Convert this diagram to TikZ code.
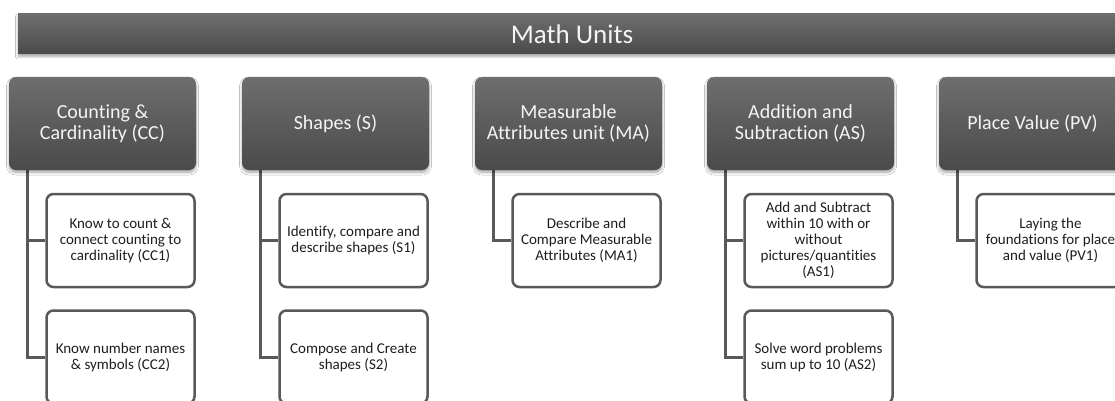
\documentclass[tikz,border=0pt]{standalone}
\usepackage{fontspec}
\setmainfont[Ligatures={NoCommon}]{Carlito}
\usetikzlibrary{shadows.blur,backgrounds}

\definecolor{linkgray}{HTML}{595959}
\definecolor{boxtop}{HTML}{6E6E6E}
\definecolor{boxbottom}{HTML}{4A4A4A}
\definecolor{lighttext}{HTML}{F4F4F4}
\definecolor{darktext}{HTML}{1E1E1E}

\tikzset{
  softshadow/.style={blur shadow={shadow xshift=0pt, shadow yshift=-2.5pt,
      shadow opacity=35, shadow blur radius=2.5pt, shadow blur steps=6}},
  banner/.style={rectangle, minimum width=1108pt, minimum height=40pt, inner sep=0pt,
      top color=boxtop, bottom color=boxbottom, text=lighttext,
      font=\fontsize{27}{30}\selectfont, softshadow},
  unitbox/.style={rectangle, rounded corners=7pt, minimum width=187pt, minimum height=93pt,
      inner sep=0pt, align=center, top color=boxtop, bottom color=boxbottom,
      text=lighttext, font=\fontsize{20}{21}\selectfont, softshadow},
  topicbox/.style={rectangle, rounded corners=7pt, minimum width=148pt, minimum height=93pt,
      inner sep=0pt, align=center, draw=linkgray, line width=2.5pt, fill=white,
      text=darktext, font=\fontsize{15}{16}\selectfont},
  link/.style={draw=linkgray, line width=3pt}
}

\begin{document}
\begin{tikzpicture}[x=1pt, y=-1pt]
\useasboundingbox (0,0) rectangle (1115,401);
\clip (0,0) rectangle (1115,401);

% title bar
\node[banner] (title) at (572,34) {Math Units};

% unit headers
\node[unitbox] (cc) at (102.5,123.5) {Counting \&\\Cardinality (CC)};
\node[unitbox] (s)  at (335.5,123.5) {Shapes (S)};
\node[unitbox] (ma) at (568.5,123.5) {Measurable\\Attributes unit (MA)};
\node[unitbox] (as) at (800.5,123.5) {Addition and\\Subtraction (AS)};
\node[unitbox] (pv) at (1032.5,123.5) {Place Value (PV)};

% topics
\node[topicbox] (cc1) at (120.5,240.5) {Know to count \&\\connect counting to\\cardinality (CC1)};
\node[topicbox] (cc2) at (120.5,357) {Know number names\\\& symbols (CC2)};
\node[topicbox] (s1)  at (353.5,240.5) {Identify, compare and\\describe shapes (S1)};
\node[topicbox] (s2)  at (353.5,357) {Compose and Create\\shapes (S2)};
\node[topicbox] (ma1) at (586.5,240.5) {Describe and\\Compare Measurable\\Attributes (MA1)};
\node[topicbox] (as1) at (818.5,240.5) {Add and Subtract\\within 10 with or\\without\\pictures/quantities\\(AS1)};
\node[topicbox] (as2) at (818.5,357) {Solve word problems\\sum up to 10 (AS2)};
\node[topicbox] (pv1) at (1050.5,240.5) {Laying the\\foundations for place\\and value (PV1)};

% white page and connectors, kept behind the boxes
\begin{scope}[on background layer]
  \clip (0,0) rectangle (1115,401);
  \fill[white] (0,0) rectangle (1115,401);
  \draw[link] ([xshift=-75.5pt]cc.south) |- (cc1.west);
  \draw[link] ([xshift=-75.5pt]cc.south) |- (cc2.west);
  \draw[link] ([xshift=-75.5pt]s.south) |- (s1.west);
  \draw[link] ([xshift=-75.5pt]s.south) |- (s2.west);
  \draw[link] ([xshift=-75.5pt]ma.south) |- (ma1.west);
  \draw[link] ([xshift=-75.5pt]as.south) |- (as1.west);
  \draw[link] ([xshift=-75.5pt]as.south) |- (as2.west);
  \draw[link] ([xshift=-75.5pt]pv.south) |- (pv1.west);
\end{scope}
\end{tikzpicture}
\end{document}
